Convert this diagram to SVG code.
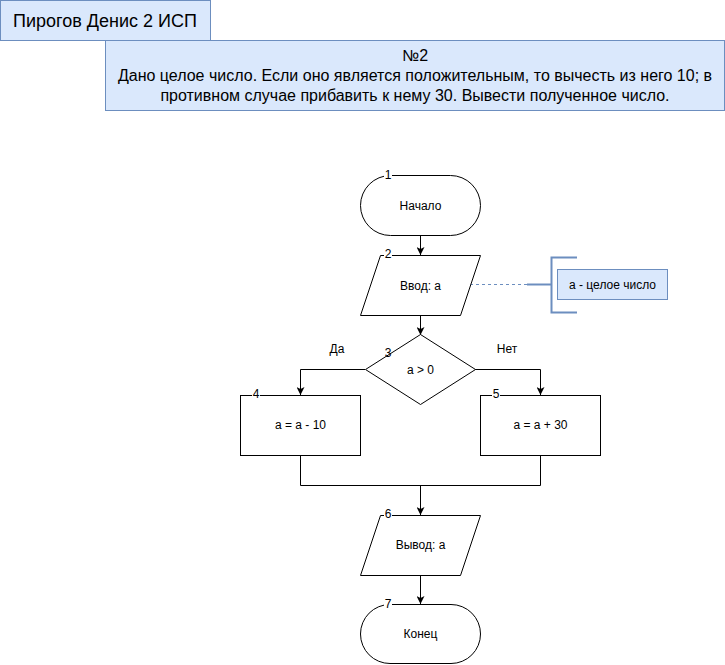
<svg xmlns="http://www.w3.org/2000/svg" width="725" height="665" viewBox="0 0 725 665">
<style>
.note{fill:#dae8fc;stroke:#6c8ebf;stroke-width:1}
.shape{fill:#fff;stroke:#000;stroke-width:1}
.t{font-family:"Liberation Sans",Arial,sans-serif;fill:#000;text-anchor:middle;dominant-baseline:central}
.lbl{font-size:12px}
.num{font-family:"Liberation Sans",Arial,sans-serif;font-size:12px;fill:#000;text-anchor:middle;dominant-baseline:central}
.edge{fill:none;stroke:#000;stroke-width:1}
</style>
<defs>
<marker id="arr" viewBox="0 0 10 10" refX="10" refY="5" markerWidth="8" markerHeight="8" markerUnits="userSpaceOnUse" orient="auto">
<path d="M0,0 L10,5 L0,10 L2.5,5 Z" fill="#000"/>
</marker>
</defs>
<rect width="725" height="665" fill="#fff"/>
<g id="title">
<rect class="note" x="0.5" y="0.5" width="210" height="40"/>
<text class="t" x="105" y="20.5" font-size="18" fill="#222">Пирогов Денис 2 ИСП</text>
</g>
<g id="task">
<rect class="note" x="105.5" y="40.5" width="619" height="70"/>
<text class="t" x="415" y="55" font-size="16">№2</text>
<text class="t" x="415" y="75" font-size="16">Дано целое число. Если оно является положительным, то вычесть из него 10; в</text>
<text class="t" x="415" y="95" font-size="16">противном случае прибавить к нему 30. Вывести полученное число.</text>
</g>
<g id="connectors">
<line class="edge" x1="420.5" y1="235" x2="420.5" y2="255" marker-end="url(#arr)"/>
<line class="edge" x1="420.5" y1="315" x2="420.5" y2="335" marker-end="url(#arr)"/>
<polyline class="edge" points="365,369.5 300.5,369.5 300.5,395" marker-end="url(#arr)"/>
<polyline class="edge" points="475,369.5 540.5,369.5 540.5,395" marker-end="url(#arr)"/>
<polyline class="edge" points="300.5,455 300.5,485.5 540.5,485.5 540.5,455"/>
<line class="edge" x1="420.5" y1="485.5" x2="420.5" y2="515" marker-end="url(#arr)"/>
<line class="edge" x1="420.5" y1="575" x2="420.5" y2="604" marker-end="url(#arr)"/>
<line x1="470" y1="284.5" x2="527" y2="284.5" stroke="#6c8ebf" stroke-width="1" stroke-dasharray="3 3"/>
<text class="t lbl" x="337" y="349">Да</text>
<text class="t lbl" x="507" y="349">Нет</text>
</g>
<g id="n1">
<rect class="shape" x="360.5" y="175.5" width="120" height="60" rx="30" ry="30"/>
<text class="t lbl" x="420.5" y="205.5">Начало</text>
<rect x="384" y="168" width="8" height="14" fill="#fff"/>
<text class="num" x="388" y="175">1</text>
</g>
<g id="n2">
<polygon class="shape" points="380.5,255.5 480.5,255.5 460.5,315.5 360.5,315.5"/>
<text class="t lbl" x="420.5" y="285.5">Ввод: a</text>
<rect x="384" y="248" width="8" height="14" fill="#fff"/>
<text class="num" x="388" y="254">2</text>
</g>
<g id="annotation">
<line x1="527" y1="284.5" x2="551" y2="284.5" stroke="#6c8ebf" stroke-width="2"/>
<polyline points="577,257.5 551.5,257.5 551.5,312.5 577,312.5" fill="none" stroke="#6c8ebf" stroke-width="2"/>
<rect class="note" x="557.5" y="269.5" width="110" height="30"/>
<text class="t lbl" x="612.5" y="284.5">a - целое число</text>
</g>
<g id="n3">
<polygon class="shape" points="420.5,334.5 475.5,369.5 420.5,404.5 365.5,369.5"/>
<text class="t lbl" x="420.5" y="369.5">a &gt; 0</text>
<text class="num" x="388" y="353">3</text>
</g>
<g id="n4">
<rect class="shape" x="240.5" y="395.5" width="120" height="60"/>
<text class="t lbl" x="300.5" y="424.5">a = a - 10</text>
<rect x="252" y="388" width="8" height="14" fill="#fff"/>
<text class="num" x="256" y="394">4</text>
</g>
<g id="n5">
<rect class="shape" x="480.5" y="395.5" width="120" height="60"/>
<text class="t lbl" x="540.5" y="424.5">a = a + 30</text>
<rect x="492" y="388" width="8" height="14" fill="#fff"/>
<text class="num" x="496" y="394">5</text>
</g>
<g id="n6">
<polygon class="shape" points="380.5,515.5 480.5,515.5 460.5,575.5 360.5,575.5"/>
<text class="t lbl" x="420.5" y="545">Вывод: a</text>
<rect x="384" y="508" width="8" height="14" fill="#fff"/>
<text class="num" x="388" y="514">6</text>
</g>
<g id="n7">
<rect class="shape" x="360.5" y="604.5" width="120" height="59" rx="29.5" ry="29.5"/>
<text class="t lbl" x="420.5" y="634">Конец</text>
<rect x="384" y="597" width="8" height="14" fill="#fff"/>
<text class="num" x="388" y="604">7</text>
</g>
</svg>
